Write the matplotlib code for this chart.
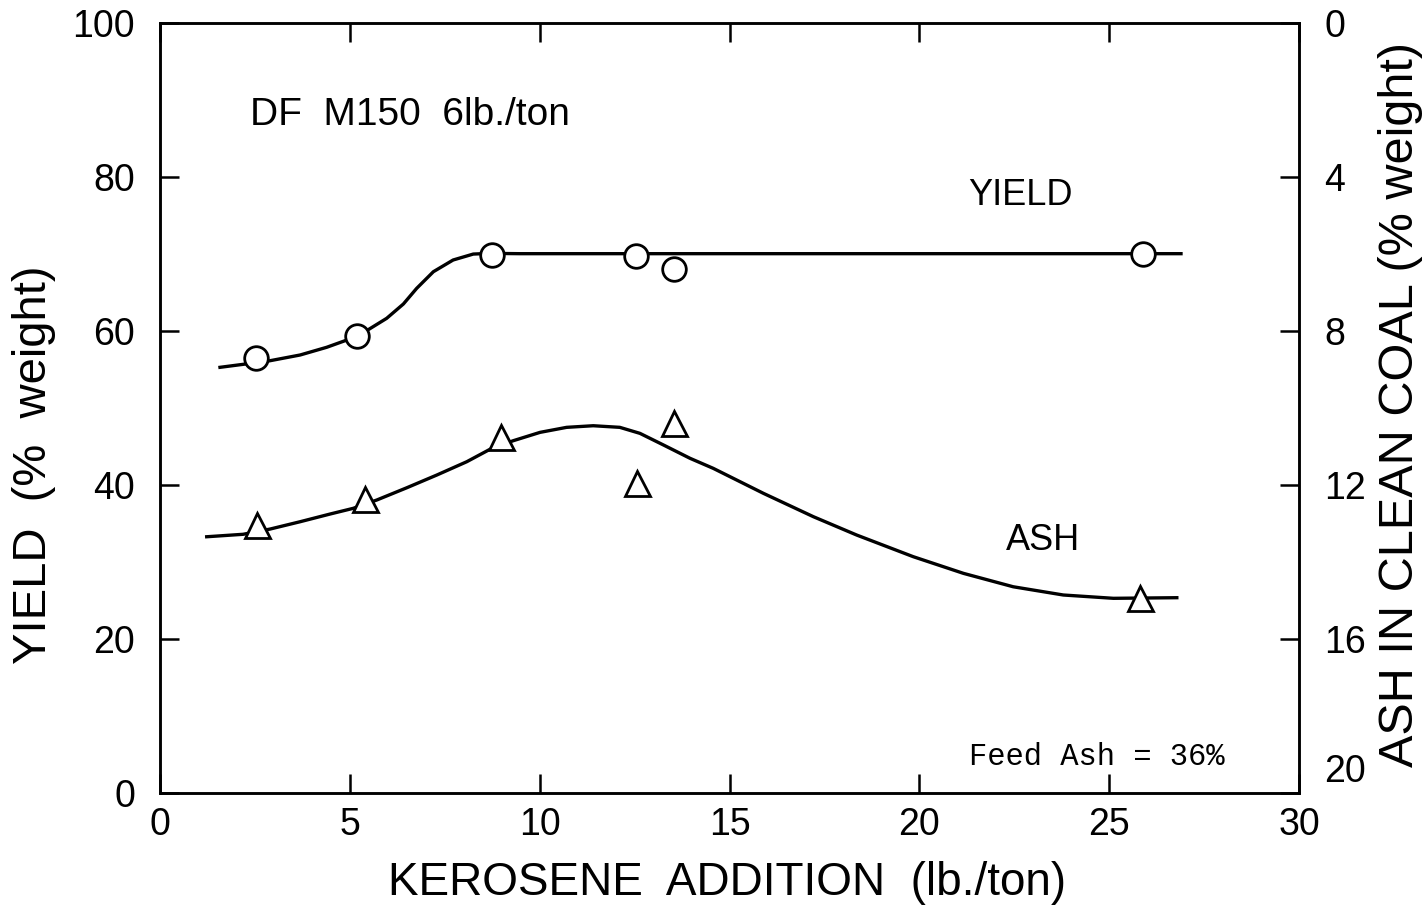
import matplotlib.pyplot as plt
from matplotlib.transforms import ScaledTranslation

# --- data ---
kero_yield = [2.54, 5.19, 8.75, 12.54, 13.55, 25.9]
yield_pct = [56.5, 59.3, 69.8, 69.7, 68.0, 70.0]

kero_ash = [2.56, 5.41, 8.98, 12.56, 13.54, 25.8]
ash_pct = [13.04, 12.36, 10.76, 11.94, 10.4, 14.94]   # right axis (inverted)

# hand drawn fit curves (left-axis units)
yfit_x = [1.58, 2.19, 2.90, 3.69, 4.39, 4.92, 5.44, 5.97, 6.41, 6.76, 7.20,
          7.72, 8.25, 8.69, 9.48, 15.0, 20.0, 26.89]
yfit_y = [55.25, 55.64, 56.11, 56.85, 57.85, 58.79, 60.0, 61.61, 63.47, 65.5,
          67.66, 69.18, 69.95, 70.04, 70.0, 70.0, 70.0, 70.0]

afit_x = [1.23, 2.19, 2.90, 3.69, 4.48, 5.09, 5.71, 6.50, 7.29, 8.08, 8.69,
          9.30, 10.01, 10.71, 11.41, 12.11, 12.64, 13.26, 13.96, 14.57, 15.89,
          17.21, 18.35, 19.84, 21.16, 22.47, 23.79, 25.11, 26.78]
afit_y = [33.26, 33.58, 34.26, 35.21, 36.21, 36.95, 38.03, 39.62, 41.27, 43.0,
          44.61, 45.72, 46.81, 47.46, 47.67, 47.46, 46.68, 45.17, 43.44, 42.14,
          38.9, 35.86, 33.48, 30.67, 28.51, 26.77, 25.7, 25.27, 25.35]

xticks = [0, 5, 10, 15, 20, 25, 30]
yticks = [0, 20, 40, 60, 80, 100]
ash_ticks = [0, 4, 8, 12, 16, 20]

plt.rcParams['font.family'] = ['Liberation Sans', 'DejaVu Sans']

fig = plt.figure(figsize=(14.26, 9.09), dpi=100)
ax = fig.add_axes([0.1122, 0.1276, 0.7988, 0.8476])
ax2 = ax.twinx()

lw = 2.4
ax.plot(yfit_x, yfit_y, color='black', lw=lw, zorder=2, solid_joinstyle='round')
ax.plot(afit_x, afit_y, color='black', lw=lw, zorder=2, solid_joinstyle='round')
ax.plot(kero_yield, yield_pct, 'o', ms=17, mfc='white', mec='black', mew=2.0, zorder=3)
ax2.plot(kero_ash, ash_pct, '^', ms=18, mfc='white', mec='black', mew=2.0, zorder=3)

ax.set_xlim(0, 30)
ax.set_ylim(0, 100)
ax2.set_ylim(20, 0)
ax.set_xticks(xticks)
ax.set_yticks(yticks)
ax2.set_yticks(ash_ticks)

for a in (ax, ax2):
    for s in a.spines.values():
        s.set_linewidth(1.8)
ax.tick_params(direction='in', length=14, width=1.8, labelsize=27, top=True, pad=10)
ax.tick_params(axis='y', pad=18)
ax2.tick_params(direction='in', length=14, width=1.8, labelsize=27, pad=18)

# lift the bottom right label so it clears the "30"
lab = ax2.get_yticklabels()[-1]
lab.set_transform(lab.get_transform() + ScaledTranslation(0, 0.25, fig.dpi_scale_trans))

ax.set_xlabel('KEROSENE  ADDITION  (lb./ton)', fontsize=33, va='center')
ax.set_ylabel('YIELD  (%  weight)', fontsize=34, va='center')
ax2.set_ylabel('ASH IN CLEAN COAL (% weight)', fontsize=35, rotation=90, va='center')
ax.xaxis.set_label_coords(0.498, -0.117)
ax.yaxis.set_label_coords(-0.111, 0.426)
ax2.yaxis.set_label_coords(1.089, 0.504)

ax.text(2.37, 88.0, 'DF  M150  6lb./ton', fontsize=28, va='center')
ax.text(21.28, 77.6, 'YIELD', fontsize=26, va='center')
ax.text(22.27, 32.8, 'ASH', fontsize=26, va='center')
ax.text(21.3, 4.7, 'Feed Ash = 36%', fontsize=22, va='center',
        family=['Liberation Mono', 'DejaVu Sans Mono'])

fig.savefig('out.png', dpi=100)
